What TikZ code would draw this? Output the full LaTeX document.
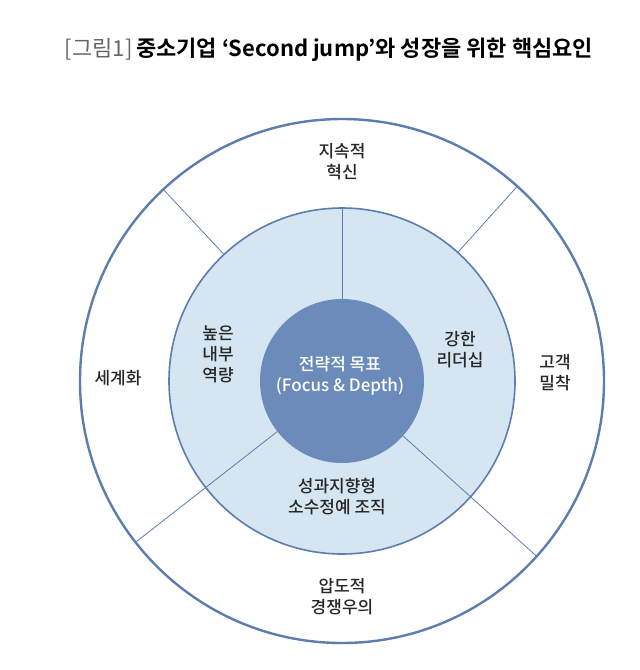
\documentclass[tikz,border=0pt]{standalone}
\usepackage{fontspec}
\usetikzlibrary{calc}
\setmainfont{Noto Sans CJK KR Medium}
\newfontfamily\kbold{Noto Sans CJK KR Bold}
\newfontfamily\klight{Noto Sans CJK KR}
\begin{document}
\begin{tikzpicture}[x=1pt,y=-1pt,
  ring/.style={draw=ringblue,line width=2.4pt},
  midring/.style={draw=ringblue,line width=1.6pt},
  divider/.style={draw=ringblue,line width=0.8pt},
  lbl/.style={align=center,font=\fontsize{17}{21}\selectfont,text=black!85},
]
\definecolor{ringblue}{HTML}{5C7DAE}
\definecolor{midfill}{HTML}{D5E5F1}
\definecolor{innerfill}{HTML}{6B8BBA}
\useasboundingbox (0,0) rectangle (640,670);
\coordinate (c) at (342,381);
\node[font=\fontsize{22}{25}\selectfont] (title) at (329,50) {{\klight\color{black!60}[그림1]}\,{\kbold 중소기업 ‘Second jump’와 성장을 위한 핵심요인}};
\draw[ring,fill=white] (c) circle[radius=262];
\draw[midring,fill=midfill] (c) circle[radius=173];
\draw[divider] ($(c)+(-90:82)$) -- ($(c)+(-90:173)$);
\foreach \a in {133,48} \draw[divider] ($(c)+(-\a:173)$) -- ($(c)+(-\a:262)$);
\foreach \a in {218,-42} \draw[divider] ($(c)+(-\a:82)$) -- ($(c)+(-\a:262)$);
\draw[midring,draw=none,fill=innerfill] (c) circle[radius=82];
\node[lbl] (t1) at (342,162) {지속적\\혁신};
\node[lbl] (t2) at (118,378) {세계화};
\node[lbl] (t3) at (555,373) {고객\\밀착};
\node[lbl] (t4) at (342,597) {압도적\\경쟁우의};
\node[lbl] (t5) at (218,354) {높은\\내부\\역량};
\node[lbl] (t6) at (460,350) {강한\\리더십};
\node[lbl] (t7) at (337,497) {성과지향형\\소수정예 조직};
\node[lbl,text=white] (t8) at (340,376) {전략적 목표\\(Focus \& Depth)};
\end{tikzpicture}
\end{document}
